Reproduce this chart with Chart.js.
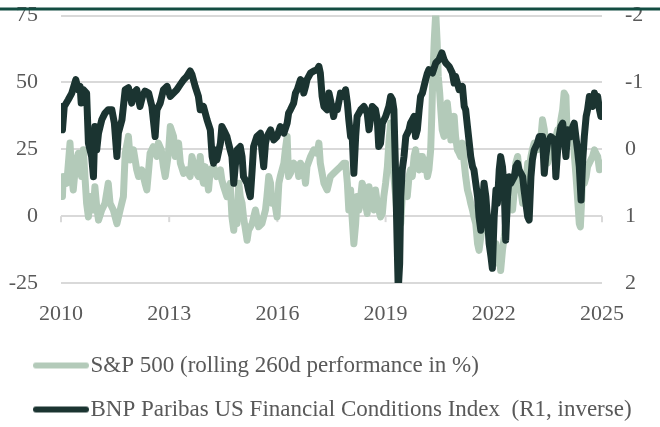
<!DOCTYPE html>
<html>
<head>
<meta charset="utf-8">
<script src="https://cdn.jsdelivr.net/npm/chart.js@4.4.1/dist/chart.umd.min.js"></script>
<style>
  html, body { margin: 0; padding: 0; background: #fff; }
</style>
</head>
<body>
<canvas id="chart" width="660" height="427"></canvas>
<script>
// S&P 500 rolling 260d performance (%)
const spYears = [
  2010.00, 2010.04, 2010.06, 2010.16, 2010.25, 2010.30, 2010.34, 2010.41, 2010.48, 2010.53, 2010.57, 2010.62, 2010.67, 2010.71, 2010.76, 2010.81, 2010.90, 2010.94, 2010.99,
  2011.04, 2011.13, 2011.22, 2011.31, 2011.36, 2011.45, 2011.55, 2011.64, 2011.73, 2011.78, 2011.87, 2011.92,
  2012.01, 2012.10, 2012.15, 2012.24, 2012.33, 2012.38, 2012.43, 2012.47, 2012.56, 2012.66, 2012.70, 2012.78, 2012.84, 2012.89, 2012.98,
  2013.03, 2013.12, 2013.17, 2013.26, 2013.31, 2013.40, 2013.49, 2013.58, 2013.63, 2013.72, 2013.81, 2013.86, 2013.91, 2013.95,
  2014.00, 2014.09, 2014.14, 2014.23, 2014.32, 2014.42, 2014.46, 2014.51, 2014.60, 2014.69, 2014.74, 2014.79, 2014.83, 2014.88, 2014.93, 2014.97,
  2015.02, 2015.06, 2015.16, 2015.20, 2015.30, 2015.39, 2015.48, 2015.57, 2015.67, 2015.71, 2015.76, 2015.81, 2015.85, 2015.90, 2015.99,
  2016.04, 2016.08, 2016.18, 2016.22, 2016.27, 2016.31, 2016.36, 2016.45, 2016.55, 2016.59, 2016.64, 2016.73, 2016.78, 2016.82, 2016.92,
  2017.01, 2017.10, 2017.15, 2017.19, 2017.29, 2017.38, 2017.47, 2017.56, 2017.66, 2017.75, 2017.84, 2017.89, 2017.94, 2017.98,
  2018.03, 2018.07, 2018.12, 2018.17, 2018.21, 2018.26, 2018.31, 2018.35, 2018.40, 2018.44, 2018.49, 2018.54, 2018.58, 2018.63, 2018.68, 2018.72, 2018.77, 2018.81, 2018.86, 2018.91, 2018.95,
  2019.00, 2019.05, 2019.09, 2019.14, 2019.19, 2019.23, 2019.28, 2019.32, 2019.37, 2019.42, 2019.46, 2019.51, 2019.56, 2019.60, 2019.65, 2019.69, 2019.74, 2019.79, 2019.83, 2019.88, 2019.93, 2019.97,
  2020.02, 2020.07, 2020.11, 2020.16, 2020.20, 2020.25, 2020.28, 2020.31, 2020.35, 2020.39, 2020.43, 2020.46, 2020.50, 2020.53, 2020.57, 2020.62, 2020.67, 2020.71, 2020.76, 2020.81, 2020.85, 2020.90, 2020.94, 2020.99,
  2021.04, 2021.08, 2021.13, 2021.18, 2021.22, 2021.27, 2021.32, 2021.36, 2021.41, 2021.45, 2021.50, 2021.55, 2021.59, 2021.64, 2021.69, 2021.73, 2021.78, 2021.87, 2021.92, 2021.96,
  2022.01, 2022.06, 2022.10, 2022.15, 2022.19, 2022.24, 2022.29, 2022.33, 2022.38, 2022.43, 2022.47, 2022.52, 2022.57, 2022.61, 2022.66, 2022.70, 2022.75, 2022.80, 2022.84, 2022.89, 2022.94, 2022.98,
  2023.03, 2023.07, 2023.12, 2023.17, 2023.21, 2023.31, 2023.35, 2023.40, 2023.44, 2023.49, 2023.58, 2023.68, 2023.77, 2023.81, 2023.86, 2023.91, 2023.95,
  2024.00, 2024.03, 2024.09, 2024.14, 2024.19, 2024.23, 2024.28, 2024.32, 2024.37, 2024.40, 2024.44, 2024.46, 2024.51, 2024.56, 2024.60, 2024.69, 2024.74, 2024.79, 2024.83, 2024.88, 2024.93, 2024.97, 2025.00
];
const spValues = [
  12.3, 7.3, 14.8, 12.3, 27.3, 14.8, 9.8, 19.8, 23.5, 18.5, 14.8, 24.8, 13.5, 4.8, -0.3, 7.3, 2.3, 11.0, 3.5,
  -1.5, 2.3, 4.8, 12.3, 4.8, 2.3, -2.8, 2.3, 7.3, 23.5, 29.8, 21.0,
  24.8, 17.3, 14.8, 17.3, 12.3, 9.8, 17.3, 23.5, 26.0, 22.3, 27.3, 24.8, 18.5, 14.8, 23.5,
  33.5, 29.8, 22.3, 27.3, 19.8, 16.0, 17.3, 14.8, 22.3, 17.3, 14.8, 22.3, 14.8, 12.3,
  18.5, 9.8, 17.3, 18.5, 14.8, 17.3, 13.5, 11.0, 7.3, 12.3, -0.3, -5.3, 2.3, -2.8, 12.3, 7.3,
  4.8, -0.3, -9.0, -5.3, -2.8, 2.3, -4.0, -2.8, 2.3, 7.3, 14.8, 12.3, 4.8, 7.3, -0.3,
  12.3, 14.8, 19.8, 24.8, 29.8, 14.8, 16.0, 19.8, 18.5, 14.8, 19.8, 17.3, 12.3, 18.5, 22.3,
  24.8, 23.5, 27.3, 19.8, 12.3, 9.8, 14.8, 16.0, 17.3, 18.5, 19.8, 19.8, 12.3, 2.3,
  9.8, -0.3, -10.3, -2.8, 7.3, 2.3, 7.3, 12.3, 9.8, 4.8, 1.0, 11.0, 7.3, 4.8, 2.3, 9.8, 4.8, 2.3, -0.3, 1.0, 7.3,
  12.3, 18.5, 27.3, 34.8, 27.3, 14.8, 7.3, -0.3, 4.8, -2.8, 7.3, 12.3, 9.8, 7.3, 14.8, 17.3, 14.8, 22.3, 24.8, 19.8, 17.3, 22.3,
  22.3, 17.3, 21.0, 14.8, 17.3, 24.8, 37.3, 52.3, 66.0, 76.0, 64.8, 52.3, 46.0, 39.8, 32.3, 29.8, 37.3, 42.3, 36.0, 28.5, 32.3, 37.3, 29.8, 24.8,
  23.5, 22.3, 27.3, 19.8, 14.8, 9.8, 7.3, 4.8, 2.3, -0.3, -2.8, -10.3, -12.8, -7.8, -2.8, -0.3, -5.3, -0.3, -2.8, -12.8,
  -17.8, -10.3, -15.3, -12.8, -20.3, -12.8, -7.8, -2.8, 2.3, 7.3, 4.8, 2.3, 9.8, 19.8, 22.3, 17.3, 9.8, 4.8, 7.3, 12.3, 19.8, 17.3,
  22.3, 24.8, 27.3, 24.8, 24.8, 29.8, 36.0, 32.3, 26.0, 19.8, 24.8, 27.3, 32.3, 29.8, 36.0, 39.8, 46.0,
  44.8, 32.3, 29.8, 27.3, 31.0, 23.5, 14.8, 7.3, -2.8, -4.0, 7.3, 17.3, 12.3, 14.8, 18.5, 21.0, 22.3, 24.8, 23.5, 22.3, 17.3, 18.5, 19.8
];

// BNP Paribas US Financial Conditions Index (right axis, drawn inverted)
const fciYears = [
  2010.00, 2010.04, 2010.09, 2010.20, 2010.30, 2010.41, 2010.48, 2010.53, 2010.56, 2010.62, 2010.71, 2010.76, 2010.85, 2010.90, 2010.94, 2010.99,
  2011.04, 2011.13, 2011.22, 2011.31, 2011.41, 2011.48, 2011.55, 2011.59, 2011.69, 2011.78, 2011.87, 2011.96,
  2012.01, 2012.10, 2012.19, 2012.26, 2012.33, 2012.43, 2012.52, 2012.56, 2012.61, 2012.66, 2012.75, 2012.84, 2012.94,
  2013.03, 2013.12, 2013.21, 2013.31, 2013.40, 2013.49, 2013.58, 2013.63, 2013.72, 2013.81, 2013.86, 2013.95,
  2014.05, 2014.14, 2014.19, 2014.23, 2014.28, 2014.32, 2014.42, 2014.46, 2014.51, 2014.60, 2014.69, 2014.74, 2014.79, 2014.83, 2014.88, 2014.97,
  2015.02, 2015.06, 2015.16, 2015.20, 2015.25, 2015.30, 2015.34, 2015.43, 2015.53, 2015.57, 2015.62, 2015.67, 2015.71, 2015.81, 2015.90, 2015.99,
  2016.08, 2016.18, 2016.27, 2016.31, 2016.36, 2016.45, 2016.50, 2016.55, 2016.64, 2016.69, 2016.73, 2016.78, 2016.82, 2016.92,
  2017.01, 2017.10, 2017.15, 2017.19, 2017.24, 2017.29, 2017.38, 2017.43, 2017.47, 2017.56, 2017.61, 2017.66, 2017.75, 2017.84, 2017.89, 2017.94, 2017.98,
  2018.03, 2018.07, 2018.12, 2018.17, 2018.21, 2018.31, 2018.40, 2018.49, 2018.54, 2018.58, 2018.63, 2018.72, 2018.77, 2018.81, 2018.86, 2018.91,
  2019.00, 2019.09, 2019.14, 2019.19, 2019.23, 2019.28, 2019.32, 2019.35, 2019.39, 2019.42, 2019.46, 2019.51, 2019.56, 2019.65, 2019.69, 2019.74, 2019.79, 2019.83, 2019.88, 2019.93, 2019.97,
  2020.02, 2020.11, 2020.16, 2020.20, 2020.30, 2020.39, 2020.48, 2020.56, 2020.62, 2020.67, 2020.76, 2020.85, 2020.90, 2020.94,
  2021.04, 2021.13, 2021.18, 2021.22, 2021.27, 2021.32, 2021.36, 2021.41, 2021.45, 2021.50, 2021.55, 2021.59, 2021.64, 2021.69, 2021.73, 2021.78, 2021.82, 2021.87, 2021.92, 2021.96,
  2022.01, 2022.06, 2022.10, 2022.15, 2022.19, 2022.24, 2022.29, 2022.33, 2022.38, 2022.43, 2022.47, 2022.57, 2022.61, 2022.66, 2022.70, 2022.80, 2022.84, 2022.89, 2022.94, 2022.98,
  2023.03, 2023.07, 2023.12, 2023.21, 2023.26, 2023.35, 2023.40, 2023.44, 2023.49, 2023.58, 2023.68, 2023.72, 2023.77, 2023.81, 2023.86, 2023.91,
  2024.00, 2024.05, 2024.14, 2024.19, 2024.23, 2024.32, 2024.37, 2024.42, 2024.46, 2024.51, 2024.56, 2024.60, 2024.65, 2024.69, 2024.74, 2024.79, 2024.83, 2024.88, 2024.93, 2024.97, 2025.00
];
const fciValues = [
  -0.64, -0.29, -0.64, -0.74, -0.84, -1.04, -0.89, -0.94, -0.69, -0.89, -0.84, -0.09, 0.11, 0.41, -0.34, 0.01,
  -0.24, -0.44, -0.54, -0.59, -0.59, -0.39, 0.11, -0.24, -0.44, -0.89, -0.92, -0.69,
  -0.84, -0.89, -0.64, -0.79, -0.87, -0.84, -0.64, -0.44, -0.19, -0.59, -0.69, -0.89, -0.94,
  -0.79, -0.84, -0.89, -0.97, -1.04, -1.09, -1.17, -1.12, -0.94, -0.79, -0.59, -0.64,
  -0.44, -0.29, 0.11, 0.21, 0.01, 0.16, -0.09, -0.34, -0.29, -0.19, 0.01, 0.11, 0.51, 0.26, 0.01, -0.04,
  0.11, 0.41, 0.51, 0.61, 0.71, 0.31, -0.04, -0.19, -0.24, 0.01, 0.26, -0.09, -0.19, -0.29, -0.14, -0.19,
  -0.34, -0.24, -0.39, -0.54, -0.59, -0.69, -0.84, -0.89, -1.04, -1.02, -0.84, -0.94, -1.04, -1.14,
  -1.17, -1.19, -1.24, -1.14, -0.79, -0.64, -0.59, -0.84, -0.74, -0.49, -0.64, -0.59, -0.84, -0.79, -0.89, -0.69, -0.44,
  -0.19, -0.24, 0.36, -0.19, -0.49, -0.59, -0.64, -0.54, -0.29, -0.44, -0.64, -0.59, -0.44, -0.04, -0.09, -0.39,
  -0.49, -0.64, -0.79, -0.74, -0.59, 0.41, 1.41, 2.1, 1.71, 0.71, 0.31, 0.11, -0.19, -0.29, -0.39, -0.44, -0.49, -0.19, -0.29, -0.59, -0.79,
  -0.84, -1.04, -1.14, -1.19, -1.14, -1.29, -1.34, -1.44, -1.34, -1.29, -1.24, -1.14, -0.99, -1.09,
  -0.89, -0.94, -0.64, -0.59, -0.34, -0.09, 0.11, 0.26, 0.31, 0.51, 0.71, 1.01, 1.21, 0.81, 0.51, 0.71, 1.01, 1.41, 1.6, 1.78,
  1.01, 0.61, 0.81, 0.31, 0.11, 0.26, 0.61, 1.36, 0.71, 0.41, 0.51, 0.41, 0.26, 0.21, 0.31, 0.41, 0.61, 0.81, 1.01, 1.06,
  0.41, 0.16, 0.01, -0.09, -0.19, -0.19, 0.36, 0.11, -0.09, -0.19, -0.14, 0.41, 0.01, -0.19, -0.34, -0.39,
  0.11, -0.29, -0.19, -0.34, -0.39, 0.01, 0.26, 0.76, 0.21, -0.19, -0.49, -0.59, -0.79, -0.69, -0.64, -0.84, -0.74, -0.79, -0.59, -0.49, -0.54
];

const xTickYears = [2010, 2013, 2016, 2019, 2022, 2025];
const leftTicks = [-25, 0, 25, 50, 75];
const rightTicks = [-2, -1, 0, 1, 2];

const spLabel = 'S&P 500 (rolling 260d performance in %)';
const fciLabel = 'BNP Paribas US Financial Conditions Index  (R1, inverse)';
const spColor = '#b3cab9';
const fciColor = '#1b3431';

Chart.defaults.font.family = '"Liberation Serif", "Times New Roman", serif';
Chart.defaults.font.size = 22;
Chart.defaults.color = '#595959';

// legend swatch: a round-capped line, drawn so the text sits right after it
function legendLine(color) {
  const c = document.createElement('canvas');
  c.width = 78;
  c.height = 10;
  const g = c.getContext('2d');
  g.strokeStyle = color;
  g.lineWidth = 6;
  g.lineCap = 'round';
  g.beginPath();
  g.moveTo(25, 5);
  g.lineTo(75, 5);
  g.stroke();
  return c;
}

// dark rule across the top, and the small year ticks hanging off the zero line
const decorations = {
  id: 'decorations',
  beforeDatasetsDraw(chart) {
    const ctx = chart.ctx;
    const x = chart.scales.x;
    const y0 = chart.scales.y.getPixelForValue(0);
    ctx.save();
    ctx.strokeStyle = '#d9d9d9';
    ctx.lineWidth = 2;
    xTickYears.forEach(year => {
      const px = x.getPixelForValue(year);
      ctx.beginPath();
      ctx.moveTo(px, y0);
      ctx.lineTo(px, y0 + 6);
      ctx.stroke();
    });
    ctx.restore();
  },
  afterDraw(chart) {
    const ctx = chart.ctx;
    ctx.save();
    ctx.strokeStyle = '#134d42';
    ctx.lineWidth = 3;
    ctx.beginPath();
    ctx.moveTo(0, 9);
    ctx.lineTo(chart.width, 9);
    ctx.stroke();
    ctx.restore();
  }
};

// keep the value axes from reserving label room above/below the plot
function fixVertical(width) {
  return (scale) => {
    scale.width = width;
    scale.paddingTop = 0;
    scale.paddingBottom = 0;
  };
}

const spData = spYears.map((x, i) => ({ x: x, y: spValues[i] }));
const fciData = fciYears.map((x, i) => ({ x: x, y: fciValues[i] }));

new Chart(document.getElementById('chart'), {
  type: 'line',
  data: {
    datasets: [
      {
        label: spLabel,
        data: spData,
        yAxisID: 'y',
        borderColor: spColor,
        backgroundColor: spColor,
        borderWidth: 7,
        borderCapStyle: 'round',
        borderJoinStyle: 'round',
        pointRadius: 0,
        pointStyle: legendLine(spColor),
        tension: 0,
        clip: 0,
        order: 1
      },
      {
        label: fciLabel,
        data: fciData,
        yAxisID: 'y2',
        borderColor: fciColor,
        backgroundColor: fciColor,
        borderWidth: 7,
        borderCapStyle: 'round',
        borderJoinStyle: 'round',
        pointRadius: 0,
        pointStyle: legendLine(fciColor),
        tension: 0,
        clip: 0,
        order: 0
      }
    ]
  },
  options: {
    responsive: false,
    animation: false,
    events: [],
    layout: { padding: { top: 15.5, left: 0, right: 0, bottom: -4 } },
    scales: {
      x: {
        type: 'linear',
        position: 'bottom',
        min: 2010,
        max: 2025,
        afterBuildTicks: (scale) => { scale.ticks = xTickYears.map(v => ({ value: v })); },
        afterFit: (scale) => { scale.height = 50; },
        ticks: { padding: 18, maxRotation: 0, autoSkip: false, callback: (v) => String(v) },
        grid: { display: false, drawTicks: false },
        border: { display: false }
      },
      y: {
        position: 'left',
        min: -25,
        max: 75,
        afterBuildTicks: (scale) => { scale.ticks = leftTicks.map(v => ({ value: v })); },
        afterFit: fixVertical(61),
        ticks: { padding: 23 },
        grid: { color: '#d9d9d9', lineWidth: 2, drawTicks: false },
        border: { display: false }
      },
      y2: {
        position: 'right',
        min: -2,
        max: 2,
        reverse: true,
        afterBuildTicks: (scale) => { scale.ticks = rightTicks.map(v => ({ value: v })); },
        afterFit: fixVertical(58),
        ticks: { padding: 23 },
        grid: { display: false, drawTicks: false },
        border: { display: false }
      }
    },
    plugins: {
      legend: {
        position: 'bottom',
        align: 'start',
        labels: {
          usePointStyle: true,
          pointStyleWidth: 58,
          padding: 21,
          color: '#595959',
          font: { size: 23 },
          sort: (a, b) => a.datasetIndex - b.datasetIndex
        }
      },
      tooltip: { enabled: false }
    }
  },
  plugins: [decorations]
});
</script>
</body>
</html>
